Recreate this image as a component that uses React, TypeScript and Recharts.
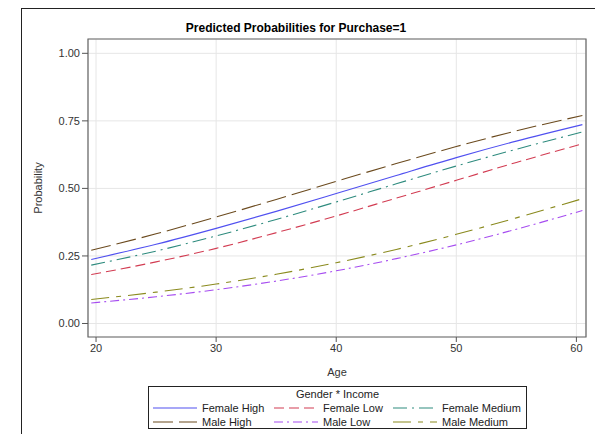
import { CartesianGrid, Line, LineChart, ReferenceArea, XAxis, YAxis } from "recharts";

const ages = [19.6, 25, 30, 35, 40, 45, 50, 55, 60.5];
const femaleHigh = [0.237, 0.293, 0.352, 0.415, 0.481, 0.548, 0.614, 0.675, 0.736];
const femaleLow = [0.181, 0.228, 0.278, 0.336, 0.398, 0.464, 0.53, 0.596, 0.665];
const femaleMedium = [0.216, 0.268, 0.324, 0.385, 0.45, 0.517, 0.583, 0.645, 0.709];
const maleHigh = [0.271, 0.332, 0.394, 0.459, 0.526, 0.592, 0.655, 0.713, 0.77];
const maleLow = [0.076, 0.099, 0.125, 0.157, 0.195, 0.24, 0.291, 0.349, 0.418];
const maleMedium = [0.089, 0.116, 0.146, 0.182, 0.225, 0.274, 0.33, 0.391, 0.462];

const xTicks = [20, 30, 40, 50, 60];
const yTicks = [0, 0.25, 0.5, 0.75, 1];

const X_DOMAIN: [number, number] = [19.33, 60.8];
const Y_DOMAIN: [number, number] = [-0.05, 1.053];

const series = [
  { key: "fh", name: "Female High", values: femaleHigh, color: "#5050f0", dash: undefined },
  { key: "fl", name: "Female Low", values: femaleLow, color: "#d23c52", dash: "10 5" },
  { key: "fm", name: "Female Medium", values: femaleMedium, color: "#2e8b7e", dash: "14 5 2 5" },
  { key: "mh", name: "Male High", values: maleHigh, color: "#6b4a1e", dash: "20 6" },
  { key: "ml", name: "Male Low", values: maleLow, color: "#a64cf0", dash: "9 4 2 4" },
  { key: "mm", name: "Male Medium", values: maleMedium, color: "#8a8a1e", dash: "18 7 5 7" },
];

const rows = ages.map((age, i) => {
  const row: Record<string, number> = { age };
  for (const s of series) row[s.key] = s.values[i];
  return row;
});

const font = "'Liberation Sans', Arial, sans-serif";

// legend drawn as plain html so it doesn't eat into the plot area
function LegendBox() {
  return (
    <div
      style={{
        position: "absolute",
        left: 148,
        top: 386,
        width: 377,
        height: 41,
        border: "1px solid #222",
        fontFamily: font,
        fontSize: 11,
        color: "#222",
      }}
    >
      <div style={{ position: "absolute", top: 1, left: 0, width: "100%", textAlign: "center" }}>Gender * Income</div>
      {series.map((s, i) => {
        const col = i % 3;
        const row = Math.floor(i / 3);
        const left = [4, 125, 244][col];
        const textLeft = [53, 174, 293][col];
        const top = 14 + row * 14;
        return (
          <div key={s.key}>
            <svg style={{ position: "absolute", left, top: top + 1 }} width={44} height={12}>
              <line x1={0} x2={44} y1={6} y2={6} stroke={s.color} strokeWidth={1.2} strokeDasharray={s.dash} />
            </svg>
            <div style={{ position: "absolute", left: textLeft, top, whiteSpace: "nowrap", lineHeight: "14px" }}>
              {s.name}
            </div>
          </div>
        );
      })}
    </div>
  );
}

export default function App() {
  return (
    <div style={{ position: "absolute", left: 0, top: 0, width: 595, height: 434, background: "#fff", overflow: "hidden" }}>
      <div
        style={{
          position: "absolute",
          left: 21,
          top: 8,
          width: 600,
          height: 440,
          borderTop: "1px solid #222",
          borderLeft: "1px solid #222",
        }}
      />
      <div
        style={{
          position: "absolute",
          left: 0,
          top: 21,
          width: 592,
          textAlign: "center",
          fontFamily: font,
          fontWeight: "bold",
          fontSize: 12,
          color: "#000",
        }}
      >
        Predicted Probabilities for Purchase=1
      </div>
      <LineChart
        width={595}
        height={434}
        data={rows}
        margin={{ top: 39, right: 9, left: 28, bottom: 67 }}
        style={{ position: "absolute", left: 0, top: 0 }}
      >
        <CartesianGrid stroke="#e6e6e6" />
        <XAxis
          dataKey="age"
          type="number"
          domain={X_DOMAIN}
          ticks={xTicks}
          allowDataOverflow
          height={30}
          tickSize={5}
          tickLine={{ stroke: "#555" }}
          axisLine={false}
          tick={{ fill: "#333", fontSize: 11, fontFamily: font }}
          label={{ value: "Age", position: "insideBottom", offset: -9, fill: "#333", fontSize: 11, fontFamily: font }}
        />
        <YAxis
          type="number"
          domain={Y_DOMAIN}
          ticks={yTicks}
          allowDataOverflow
          width={60}
          tickSize={6}
          tickLine={{ stroke: "#555" }}
          axisLine={false}
          tickFormatter={(v: number) => v.toFixed(2)}
          tick={{ fill: "#333", fontSize: 11, fontFamily: font }}
          label={{
            value: "Probability",
            angle: -90,
            position: "insideLeft",
            offset: 10,
            style: { textAnchor: "middle" },
            fill: "#333",
            fontSize: 11,
            fontFamily: font,
          }}
        />
        <ReferenceArea
          x1={X_DOMAIN[0]}
          x2={X_DOMAIN[1]}
          y1={Y_DOMAIN[0]}
          y2={Y_DOMAIN[1]}
          fill="none"
          stroke="#666"
          strokeWidth={1.2}
          ifOverflow="visible"
        />
        {series.map((s) => (
          <Line
            key={s.key}
            type="monotone"
            dataKey={s.key}
            name={s.name}
            stroke={s.color}
            strokeWidth={1.1}
            strokeDasharray={s.dash}
            dot={false}
            activeDot={false}
            isAnimationActive={false}
          />
        ))}
      </LineChart>
      <LegendBox />
    </div>
  );
}
